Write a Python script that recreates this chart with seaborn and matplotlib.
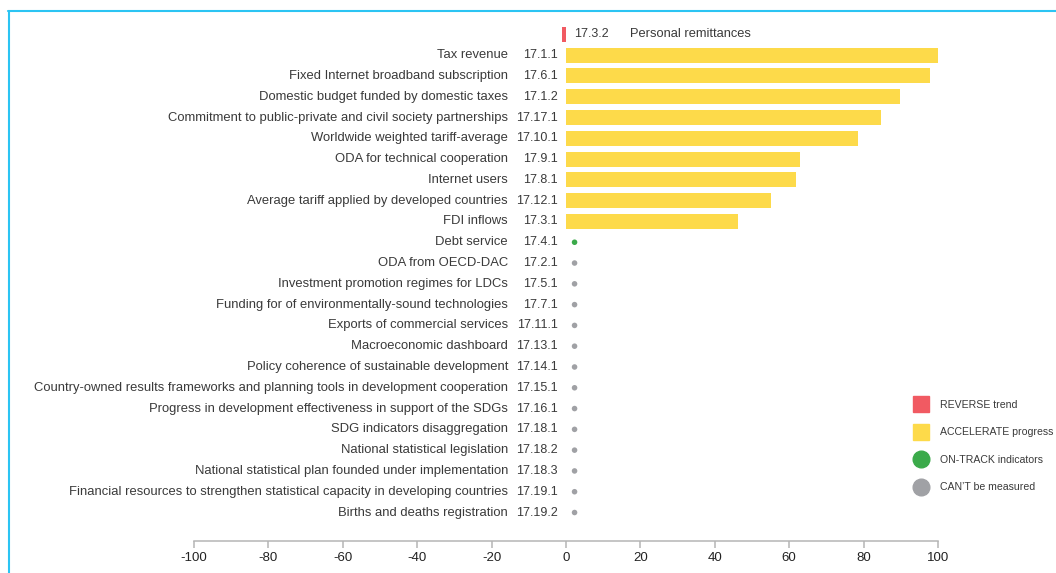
import matplotlib
matplotlib.use("Agg")
import matplotlib.pyplot as plt
import matplotlib.transforms as mtransforms
from matplotlib.lines import Line2D
from matplotlib import font_manager
import seaborn as sns
import pandas as pd
import numpy as np

codes = ["17.3.2", "17.1.1", "17.6.1", "17.1.2", "17.17.1", "17.10.1", "17.9.1",
         "17.8.1", "17.12.1", "17.3.1", "17.4.1", "17.2.1", "17.5.1", "17.7.1",
         "17.11.1", "17.13.1", "17.14.1", "17.15.1", "17.16.1", "17.18.1",
         "17.18.2", "17.18.3", "17.19.1", "17.19.2"]
names = ["Personal remittances", "Tax revenue", "Fixed Internet broadband subscription",
         "Domestic budget funded by domestic taxes",
         "Commitment to public-private and civil society partnerships",
         "Worldwide weighted tariff-average", "ODA for technical cooperation",
         "Internet users", "Average tariff applied by developed countries", "FDI inflows",
         "Debt service", "ODA from OECD-DAC", "Investment promotion regimes for LDCs",
         "Funding for of environmentally-sound technologies",
         "Exports of commercial services", "Macroeconomic dashboard",
         "Policy coherence of sustainable development",
         "Country-owned results frameworks and planning tools in development cooperation",
         "Progress in development effectiveness in support of the SDGs",
         "SDG indicators disaggregation", "National statistical legislation",
         "National statistical plan founded under implementation",
         "Financial resources to strengthen statistical capacity in developing countries",
         "Births and deaths registration"]
values = [-1.2, 100, 97.8, 89.8, 84.7, 78.5, 62.9, 61.8, 55.1, 46.2] + [np.nan] * 14
status = ["reverse"] + ["accelerate"] * 9 + ["ontrack"] + ["cant"] * 13
xticks = [-100, -80, -60, -40, -20, 0, 20, 40, 60, 80, 100]
legend_labels = ["REVERSE trend", "ACCELERATE progress", "ON-TRACK indicators", "CAN\u2019T be measured"]

colors = {"reverse": "#F15A62", "accelerate": "#FDDA4A", "ontrack": "#3BAA4A", "cant": "#A0A1A5"}
TXT = "#3a3a3a"
FONT = ["Liberation Sans", "DejaVu Sans"]
installed = {f.name for f in font_manager.fontManager.ttflist}
HAS_NARROW = "Liberation Sans Narrow" in installed
NARROW = ["Liberation Sans Narrow", "Liberation Sans", "DejaVu Sans"]

sns.set_style("white")
plt.rcParams["font.family"] = FONT

W, H = 1056, 573
fig = plt.figure(figsize=(W / 100, H / 100), dpi=100)
ax = fig.add_axes([194 / W, (H - 541) / H, 744 / W, 521 / H])

df = pd.DataFrame({"code": codes, "name": names, "value": values, "status": status})
df["pos"] = np.arange(len(df))
bars = df[df["value"].notna()]
dots = df[df["value"].isna()].copy()
dots["xpos"] = 2.3

sns.barplot(data=bars, x="value", y="code", order=codes, hue="status",
            palette=colors, dodge=False, width=0.72, legend=False, ax=ax,
            saturation=1, linewidth=0)
sns.scatterplot(data=dots, x="xpos", y="pos", hue="status", palette=colors,
                s=16, linewidth=0, legend=False, ax=ax)

ax.set_xlim(-100, 100)
ax.set_ylim(24.37, -0.69)
ax.set_yticks([])
ax.set_ylabel("")
ax.set_xlabel("")
ax.set_xticks(xticks)
ax.set_xticklabels([str(t) for t in xticks])
for s in ["top", "right", "left"]:
    ax.spines[s].set_visible(False)
ax.spines["bottom"].set_color("#b5b5b5")
ax.spines["bottom"].set_linewidth(1.1)
ax.tick_params(axis="x", length=5, width=1.1, color="#b5b5b5", labelsize=9.5,
               labelcolor="#222222", pad=3, bottom=True)

def off(px):
    return mtransforms.offset_copy(ax.transData, fig=fig, x=px, y=0, units="dots")

code_fam = NARROW if HAS_NARROW else FONT
code_size = 9.6 if HAS_NARROW else 9
for _, r in df.iterrows():
    neg = (r["value"] < 0)
    if neg:
        ax.text(0, r["pos"], r["code"], transform=off(8), ha="left", va="center",
                fontsize=code_size, family=code_fam, color=TXT)
        ax.text(0, r["pos"], r["name"], transform=off(64), ha="left", va="center",
                fontsize=9.3, color=TXT)
    else:
        ax.text(0, r["pos"], r["code"], transform=off(-8), ha="right", va="center",
                fontsize=code_size, family=code_fam, color=TXT)
        ax.text(0, r["pos"], r["name"], transform=off(-58), ha="right", va="center",
                fontsize=9.35, color=TXT)

handles = [
    Line2D([], [], linestyle="none", marker="s", markersize=11.5, color=colors["reverse"]),
    Line2D([], [], linestyle="none", marker="s", markersize=11.5, color=colors["accelerate"]),
    Line2D([], [], linestyle="none", marker="o", markersize=12, color=colors["ontrack"]),
    Line2D([], [], linestyle="none", marker="o", markersize=12, color=colors["cant"]),
]
leg_fs = 9.3 if HAS_NARROW else 7.6
leg_prop = {"family": NARROW if HAS_NARROW else FONT, "size": leg_fs}
hl = 17.0 / (leg_fs * 100 / 72)
tp = 10.5 / (leg_fs * 100 / 72)
ls = (27.7 - leg_fs * 100 / 72 * 0.97) / (leg_fs * 100 / 72)
leg = fig.legend(handles, legend_labels, loc="upper left",
                 bbox_to_anchor=(912.5 / W, 1 - 400 / H), frameon=False,
                 prop=leg_prop, labelspacing=ls, handlelength=hl, handletextpad=tp,
                 borderaxespad=0, borderpad=0)
for t in leg.get_texts():
    t.set_color(TXT)

frame_col = "#2BC4F3"
fig.add_artist(Line2D([8 / W, 1], [1 - 10.5 / H, 1 - 10.5 / H], color=frame_col,
                      lw=1.5, transform=fig.transFigure))
fig.add_artist(Line2D([9 / W, 9 / W], [0, 1 - 10.5 / H], color=frame_col,
                      lw=1.5, transform=fig.transFigure))

fig.savefig("out.png", dpi=100)
